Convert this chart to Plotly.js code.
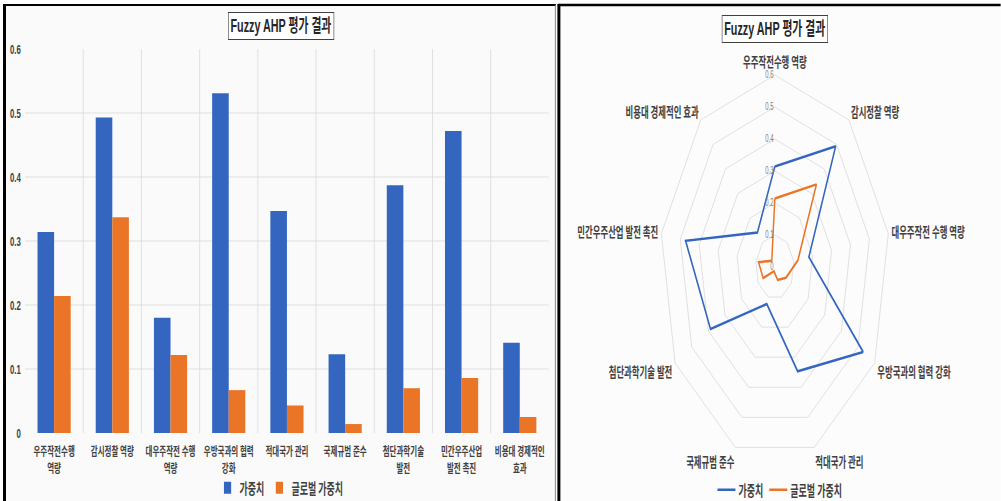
<!DOCTYPE html>
<html><head><meta charset="utf-8">
<script src="https://cdn.plot.ly/plotly-3.0.1.min.js"></script>
<style>
html,body{margin:0;padding:0;background:#fff;overflow:hidden;width:1001px;height:501px}
#chart{width:1668px;height:501px;transform:scaleX(0.6);transform-origin:0 0}
</style>
</head><body><div id="chart"></div>
<script>
// ---- data ----
const categories = ['우주작전수행 역량','감시정찰 역량','대우주작전 수행 역량','우방국과의 협력 강화','적대국가 관리','국제규범 준수','첨단과학기술 발전','민간우주산업 발전 촉진','비용대 경제적인 효과'];
const barTickLabels = ['우주작전수행<br>역량','감시정찰 역량','대우주작전 수행<br>역량','우방국과의 협력<br>강화','적대국가 관리','국제규범 준수','첨단과학기술<br>발전','민간우주산업<br>발전 촉진','비용대 경제적인<br>효과'];
const weights = [0.314,0.493,0.180,0.531,0.347,0.123,0.387,0.472,0.141];
const globalWeights = [0.214,0.337,0.122,0.067,0.043,0.014,0.070,0.086,0.025];
const radialTicks = [0,0.1,0.2,0.3,0.4,0.5,0.6];
const seriesNames = ['가중치','글로벌 가중치'];
const chartTitle = 'Fuzzy AHP 평가 결과';

// ---- style ----
// The reference picture is horizontally compressed (factor 0.6); the chart is drawn
// wider and then squeezed by CSS so that fractions of the paper match the reference.
const F = 0.6, REFW = 1001, H = 501, W = Math.round(REFW / F);
const BLUE = '#3466bf', ORANGE = '#ea7526';
const KR = 'Noto Sans CJK KR, sans-serif';
const LAT = 'Liberation Sans, Noto Sans CJK KR, sans-serif';
const px = v => v / REFW, py = v => 1 - v / H;

const traces = [
  {type:'bar', name:seriesNames[0], x:categories, y:weights, marker:{color:BLUE}, legend:'legend', hoverinfo:'none'},
  {type:'bar', name:seriesNames[1], x:categories, y:globalWeights, marker:{color:ORANGE}, legend:'legend', hoverinfo:'none'},
  {type:'scatterpolar', mode:'lines', name:seriesNames[0], theta:categories.concat(categories[0]), r:weights.concat(weights[0]), line:{color:BLUE, width:2.5}, subplot:'polar', legend:'legend2', hoverinfo:'none'},
  {type:'scatterpolar', mode:'lines', name:seriesNames[1], theta:categories.concat(categories[0]), r:globalWeights.concat(globalWeights[0]), line:{color:ORANGE, width:2.5}, subplot:'polar', legend:'legend2', hoverinfo:'none'}
];

const titleBox = (x, y) => ({text:chartTitle, xref:'paper', yref:'paper', x:px(x), y:py(y), xanchor:'center', yanchor:'middle', showarrow:false,
  font:{family:LAT, size:18, color:'#262626', weight:'bold'}, bordercolor:'#404040', borderwidth:1, borderpad:3, bgcolor:'#ffffff'});

const shapes = [
  {type:'rect', xref:'paper', yref:'paper', x0:px(5), x1:px(555), y0:py(5), y1:py(501), fillcolor:'#fafafa', line:{width:0}, layer:'below'},
  {type:'rect', xref:'paper', yref:'paper', x0:px(559), x1:px(1001), y0:py(5), y1:py(501), fillcolor:'#fcfcfc', line:{width:0}, layer:'below'},
  {type:'line', xref:'paper', yref:'paper', x0:px(4.5), x1:px(4.5), y0:py(4), y1:py(501), line:{color:'#000', width:5}},
  {type:'line', xref:'paper', yref:'paper', x0:px(3), x1:px(556), y0:py(5), y1:py(5), line:{color:'#000', width:2}},
  {type:'line', xref:'paper', yref:'paper', x0:px(555.5), x1:px(555.5), y0:py(5), y1:py(501), line:{color:'#888', width:1.7}},
  {type:'line', xref:'paper', yref:'paper', x0:px(559), x1:px(559), y0:py(4), y1:py(501), line:{color:'#000', width:5}},
  {type:'line', xref:'paper', yref:'paper', x0:px(558), x1:px(1001), y0:py(5), y1:py(5), line:{color:'#000', width:2.5}}
];

// polar domain: a square of 384 px (height) around the reference centre (775, 267)
const R = 192, cx = 775 / REFW * W, cy = 267;
const layout = {
  width:W, height:H, margin:{l:0, r:0, t:0, b:0, autoexpand:false},
  paper_bgcolor:'#ffffff', plot_bgcolor:'rgba(0,0,0,0)',
  barmode:'group', bargap:0.43, bargroupgap:0,
  xaxis:{domain:[px(25), px(549)], tickvals:categories, ticktext:barTickLabels, tickangle:0, tickson:'boundaries', showgrid:true, gridcolor:'#d9d9d9', ticks:'', showline:false, zeroline:false, ticklabelstandoff:10, tickfont:{family:KR, size:12.5, color:'#404040', weight:'bold'}, fixedrange:true},
  yaxis:{domain:[py(433), py(49)], range:[0,0.6], dtick:0.1, showgrid:true, gridcolor:'#d9d9d9', zeroline:false, showline:false, ticks:'', ticklabelstandoff:6, tickfont:{family:LAT, size:13, color:'#404040', weight:'bold'}, fixedrange:true},
  polar:{
    domain:{x:[(cx - R) / W, (cx + R) / W], y:[py(cy + R), py(cy - R)]},
    gridshape:'linear', bgcolor:'rgba(0,0,0,0)',
    angularaxis:{type:'category', categoryarray:categories, direction:'clockwise', rotation:90, showgrid:false, showline:true, linecolor:'#d9d9d9', linewidth:1, ticks:'outside', ticklen:2, tickcolor:'rgba(0,0,0,0)', tickfont:{family:KR, size:14, color:'#404040', weight:'bold'}},
    radialaxis:{range:[0,0.6], tickvals:radialTicks, angle:90, tickangle:90, side:'counterclockwise', showline:false, ticks:'', showgrid:true, gridcolor:'#d9d9d9', gridwidth:1, tickfont:{family:LAT, size:10, color:'#7f7f7f'}}
  },
  legend:{orientation:'h', x:px(281), xanchor:'center', y:py(488), yanchor:'middle', font:{family:KR, size:15, color:'#404040', weight:'bold'}, bgcolor:'rgba(0,0,0,0)', itemwidth:30, traceorder:'normal'},
  legend2:{orientation:'h', x:px(780), xanchor:'center', y:py(490), yanchor:'middle', font:{family:KR, size:15, color:'#404040', weight:'bold'}, bgcolor:'rgba(0,0,0,0)', itemwidth:30, traceorder:'normal'},
  annotations:[titleBox(281, 25.5), titleBox(775, 29)],
  shapes, showlegend:true
};
const ready = document.fonts ? Promise.all([
  document.fonts.load('bold 13px "Noto Sans CJK KR"', '가중치'),
  document.fonts.load('13px "Noto Sans CJK KR"', '가중치'),
  document.fonts.load('bold 13px "Liberation Sans"', 'Fuzzy')
]).catch(() => null) : Promise.resolve();
ready.then(() => Plotly.newPlot('chart', traces, layout, {displayModeBar:false, staticPlot:true}));
</script></body></html>
